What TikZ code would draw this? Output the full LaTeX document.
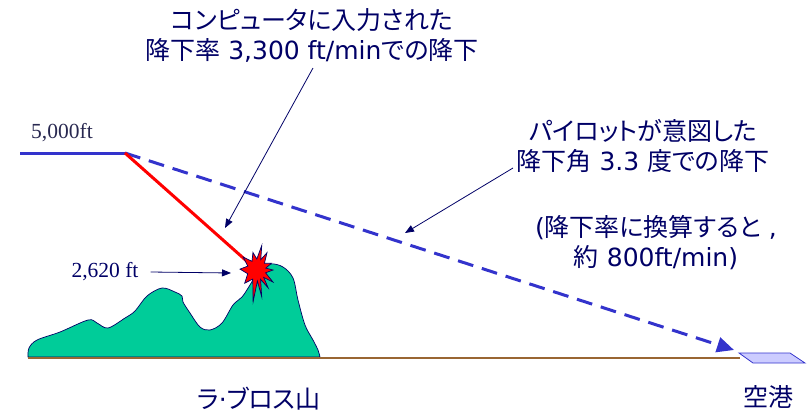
\documentclass[tikz,border=0pt]{standalone}
\usepackage{fontspec}
\setmainfont{Noto Sans CJK JP}[RawFeature=+palt]
\newfontfamily\numserif{Liberation Serif}
\newfontfamily\latinpart{DejaVu Sans}
\newcommand{\lat}[1]{{\latinpart #1}}
\usetikzlibrary{arrows.meta}
\definecolor{navy}{RGB}{0,0,102}
\definecolor{slate}{RGB}{40,40,80}
\definecolor{pathblue}{RGB}{51,51,204}
\definecolor{hillgreen}{RGB}{0,204,153}
\definecolor{ground}{RGB}{153,102,51}
\definecolor{padblue}{RGB}{204,204,255}
\tikzset{
  jtext/.style={text=navy, align=center, inner sep=0pt,
    font=\fontsize{25}{30}\selectfont},
  numlabel/.style={inner sep=0pt, font=\numserif\fontsize{21.5}{24}\selectfont},
  pointer/.style={draw=navy, line width=0.8pt, -{Triangle[length=9pt,width=7pt]}},
  flightpath/.style={draw=pathblue, line width=3pt},
  actualpath/.style={draw=red, line width=3pt},
}
\begin{document}
\begin{tikzpicture}[x=1pt, y=-1pt]
\useasboundingbox (0,0) rectangle (809,416);

% terrain
\draw[fill=hillgreen, draw=navy, line width=0.7pt]
  plot[smooth, tension=0.55] coordinates {
    (28,357) (29,348) (37,340) (60,332) (88,320) (97,323) (108,328)
    (125,318) (135,311) (147,296) (162,288) (175,292) (182,296) (183,302)
    (190,313) (200,327) (210,330) (222,323) (233,305) (242,297) (250,285)
    (258,272) (270,264) (283,267) (293,278) (298,300) (305,325) (313,340)
    (318,350) (320,357)} -- cycle;
\draw[ground, line width=2pt] (28,358) -- (740,358);

% runway
\draw[fill=padblue, draw=pathblue, line width=0.8pt]
  (739,353) -- (790,353) -- (805,363) -- (753,363) -- cycle;

% level segment and the two descents
\coordinate (start) at (20,153);
\coordinate (tod) at (125,153);
\coordinate (impact) at (250,264);
\coordinate (runway) at (734,350);
\draw[flightpath] (start) -- (tod);
\draw[flightpath, dash pattern=on 16pt off 9pt,
  -{Triangle[length=17pt,width=15pt]}] (tod) -- (runway);
\draw[actualpath] (tod) -- (impact);

% crash burst
\begin{scope}[shift={(257,270)}]
\draw[fill=red, draw=navy, line width=0.7pt]
  (0:16) -- (18:9) -- (37:20) -- (48:10) -- (58:21) -- (69:10) -- (80:27)
  -- (88:11) -- (97:32) -- (115:10) -- (133:18) -- (158:10) -- (183:17)
  -- (203:10) -- (223:19) -- (240:10) -- (257:18) -- (269:11) -- (281:25)
  -- (290:11) -- (300:20) -- (318:10) -- (335:16) -- (348:9) -- cycle;
\end{scope}

% labels
\node[numlabel, text=slate] (alt5000) at (62,133) {5,000ft};
\node[numlabel, text=navy] (alt2620) at (105,272) {2,620 ft};
\node[jtext] (computer) at (312,35)
  {コンピュータに入力された\\降下率\lat{ 3,300 ft/min}での降下};
\node[jtext] (pilot) at (643,146)
  {パイロットが意図した\\降下角\lat{ 3.3 }度での降下};
\node[jtext] (rate) at (656,242.5)
  {\lat{(}降下率に換算すると\lat{ ,}\\約\lat{ 800ft/min)}};
\node[jtext] (mount) at (259,399) {ラ\lat{·}ブロス山};
\node[jtext] (airport) at (768,397) {空港};

% pointers
\coordinate (redtip) at (225,228);
\coordinate (bluetip) at (405,233);
\coordinate (crashtip) at (231,273);
\coordinate (cfoot) at (313,68);
\coordinate (pfoot) at (513,168);
\draw[pointer] (cfoot) -- (redtip);
\draw[pointer] (pfoot) -- (bluetip);
\draw[pointer] ([xshift=12pt]alt2620.east) -- (crashtip);
\end{tikzpicture}
\end{document}
